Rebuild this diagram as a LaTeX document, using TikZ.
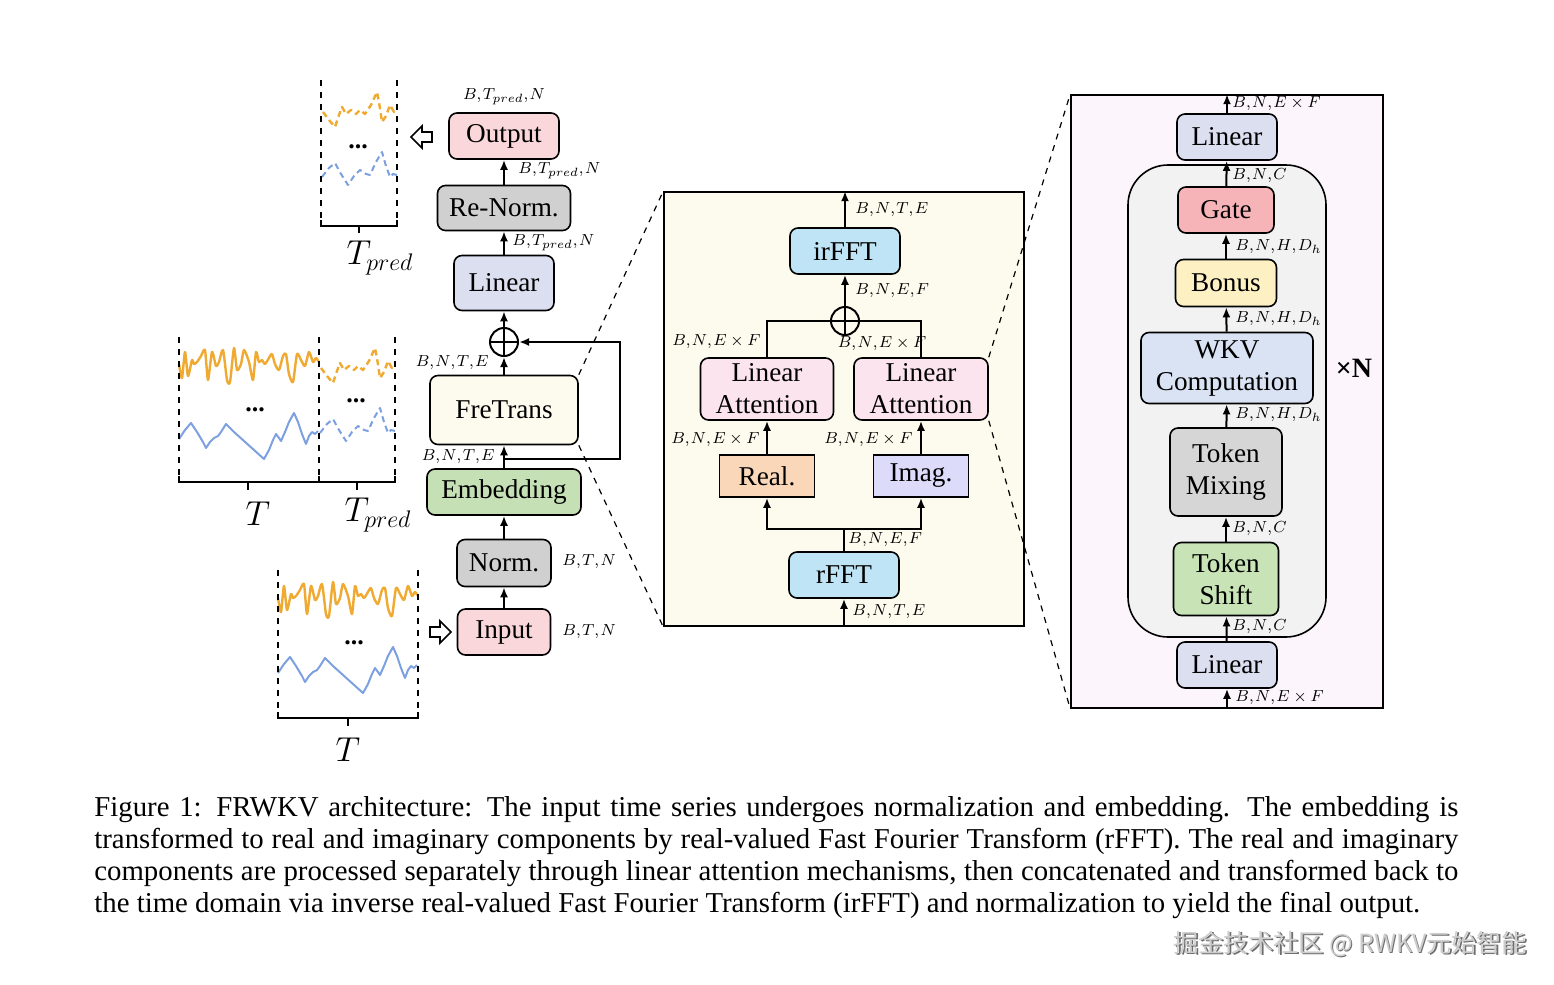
\documentclass[tikz,border=0pt]{standalone}
\usepackage{fontspec}
\setmainfont{Liberation Serif}
\newfontfamily\cjkfont{Noto Sans CJK SC}
\usetikzlibrary{arrows.meta,calc}
\newcommand\kma{\mathord{,}\mkern1.5mu}
\definecolor{cPink}{RGB}{250,215,218}
\definecolor{cGray}{RGB}{208,208,208}
\definecolor{cLin}{RGB}{220,223,240}
\definecolor{cFre}{RGB}{253,250,238}
\definecolor{cEmb}{RGB}{197,224,180}
\definecolor{cPanel}{RGB}{253,251,238}
\definecolor{cFFT}{RGB}{190,228,245}
\definecolor{cLA}{RGB}{251,228,238}
\definecolor{cReal}{RGB}{250,215,185}
\definecolor{cImag}{RGB}{220,220,250}
\definecolor{cRP}{RGB}{252,246,252}
\definecolor{cBig}{RGB}{242,242,242}
\definecolor{cGate}{RGB}{246,180,184}
\definecolor{cBonus}{RGB}{253,241,196}
\definecolor{cWKV}{RGB}{218,227,244}
\definecolor{cTM}{RGB}{214,214,214}
\definecolor{cTS}{RGB}{200,228,182}
\definecolor{cOr}{RGB}{240,170,50}
\definecolor{cBl}{RGB}{125,160,225}
\tikzset{
  box/.style={draw, line width=0.8pt, rounded corners=4pt, align=center, inner sep=0pt,
    font=\fontsize{13.6}{16}\selectfont},
  sqbox/.style={draw, line width=0.8pt, align=center, inner sep=0pt,
    font=\fontsize{13.6}{16}\selectfont},
  wh/.style 2 args={minimum width=#1*0.5pt, minimum height=#2*0.5pt},
  arr/.style={line width=1pt, -{Latex[length=5pt,width=4pt]}},
  ln/.style={line width=1pt},
  lab/.style={inner sep=0pt, font=\fontsize{8.3}{9}\selectfont},
  oplus/.style={circle, draw, line width=1pt, minimum size=14pt, inner sep=0pt,
    path picture={\draw[line width=1pt] (path picture bounding box.north) -- (path picture bounding box.south)
      (path picture bounding box.west) -- (path picture bounding box.east);}},
  zoomline/.style={dashed, line width=0.6pt},
  border/.style={dashed, line width=0.7pt},
  brk/.style={line width=0.8pt},
  oline/.style={draw=cOr, line width=1.2pt, line join=round},
  bline/.style={draw=cBl, line width=1pt, line join=round},
  dsh/.style={dash pattern=on 3pt off 2pt},
  big/.style={inner sep=0pt, font=\fontsize{17}{20}\selectfont},
  dots/.style={inner sep=0pt, font=\fontsize{13}{14}\selectfont\bfseries},
  inseries/.pic={
    \draw[oline] plot[smooth, tension=0.4] coordinates {(0,-2) (3,12) (6,-14) (9,10) (13,-6) (15,-2) (18,-4) (22,-10) (26,-16) (29,14) (33,-14) (37,0) (40,-4) (44,-16) (48,14) (51,16) (55,-18) (58,4) (62,-2) (65,-16) (70,-4) (74,14) (77,-14) (80,-4) (83,-6) (86,-2) (90,-8) (93,-12) (96,-2) (100,4) (104,-10) (107,-12) (110,8) (114,16) (118,-12) (122,-6) (126,0) (130,-14) (134,-4) (137,-8) (140,-4)};
    \draw[bline] plot coordinates {(0,73) (6,64) (12,57) (18,66) (24,76) (27,82) (31,76) (35,72) (39,70) (42,66) (47,58) (55,66) (65,75) (75,84) (85,93) (90,84) (94,74) (97,68) (100,72) (102,75) (106,66) (110,56) (115,47) (119,56) (123,68) (127,78) (130,70) (133,66) (136,68) (139,65)};
  },
  predseries/.pic={
    \draw[oline,dsh] plot coordinates {(2,2) (8,10) (14,17) (18,5) (21,-3) (25,4) (30,0) (35,4) (39,0) (44,4) (50,-5) (56,-18) (58,-8) (61,12) (65,6) (69,-5) (73,2) (76,-2)};
    \draw[bline,dsh] plot coordinates {(1,67) (8,58) (14,53) (20,64) (27,75) (33,66) (39,60) (45,64) (49,65) (55,52) (61,42) (65,56) (69,67) (72,64) (76,65)};
  },
}
\begin{document}
\begin{tikzpicture}[x=0.5pt,y=-0.5pt]
\useasboundingbox[fill=white] (0,0) rectangle (1554,985);

% ---------- time series panels ----------
% top (prediction)
\pic at (321,110) {predseries};
\draw[border] (321,80) -- (321,222);
\draw[border] (397,80) -- (397,222);
\draw[brk] (321,220) -- (321,226) -- (397,226) -- (397,220) (359,226) -- (359,233);
\node[dots] at (358,147) {...};
\node[big] at (380,258) {$T_{pred}$};
% middle (input + prediction)
\pic at (179,366) {inseries};
\pic at (319,366) {predseries};
\draw[border] (179,337) -- (179,478);
\draw[border] (319,337) -- (319,478);
\draw[border] (395,337) -- (395,478);
\draw[brk] (179,476) -- (179,482) -- (395,482) -- (395,476) (319,476) -- (319,482)
  (248,482) -- (248,490) (357,482) -- (357,490);
\node[dots] at (255,410) {...};
\node[dots] at (356,401) {...};
\node[big] at (258,514) {$T$};
\node[big] at (378,515) {$T_{pred}$};
% bottom (input)
\pic at (278,600) {inseries};
\draw[border] (278,570) -- (278,714);
\draw[border] (418,570) -- (418,714);
\draw[brk] (278,712) -- (278,718) -- (418,718) -- (418,712) (348,718) -- (348,726);
\node[dots] at (354,643) {...};
\node[big] at (348,750) {$T$};

% hollow arrows
\draw[line width=0.8pt, fill=white] (430,627) -- (440,627) -- (440,621) -- (451,632) -- (440,643) -- (440,637) -- (430,637) -- cycle;
\draw[line width=0.8pt, fill=white] (432,132) -- (422,132) -- (422,126) -- (411,137) -- (422,148) -- (422,142) -- (432,142) -- cycle;

% ---------- panels ----------
\node[draw, fill=cPanel, line width=0.8pt, inner sep=0pt, wh={360}{434}] (fpanel) at (844,409) {};
\node[draw, fill=cRP, line width=0.8pt, inner sep=0pt, wh={312}{613}] (rpanel) at (1227,401.5) {};
\node[draw, fill=cBig, line width=0.8pt, rounded corners=20pt, inner sep=0pt, wh={198}{472}] (blk) at (1227,401) {};

% ---------- main chain ----------
\node[box, fill=cPink, wh={110}{46}] (output) at (504,136) {Output};
\node[box, fill=cGray, wh={133}{45}] (renorm) at (504,208) {Re-Norm.};
\node[box, fill=cLin, wh={100}{55}] (lin1) at (504,283) {Linear};
\node[oplus] (op1) at (504,342) {};
\node[box, fill=cFre, wh={148}{69}] (fre) at (504,410) {FreTrans};
\node[box, fill=cEmb, wh={154}{46}] (emb) at (504,492) {Embedding};
\node[box, fill=cGray, wh={94}{47}] (norm) at (504,563) {Norm.};
\node[box, fill=cPink, wh={93}{46}] (input) at (504,632) {Input};

\draw[arr] (input) -- (norm);
\draw[arr] (norm) -- (emb);
\draw[arr] (emb) -- (fre);
\draw[arr] (fre) -- (op1);
\draw[arr] (op1) -- (lin1);
\draw[arr] (lin1) -- (renorm);
\draw[arr] (renorm) -- (output);
\coordinate (br) at (504,459);
\coordinate (rc) at (620,459);
\draw[arr] (br) -- (rc) |- (op1.east);

\node[lab] at (504,97) {$B\kma T_{pred}\kma N$};
\node[lab, anchor=west] at (518,171) {$B\kma T_{pred}\kma N$};
\node[lab, anchor=west] at (512,243) {$B\kma T_{pred}\kma N$};
\node[lab, anchor=east] at (489,363) {$B\kma N\kma T\kma E$};
\node[lab, anchor=east] at (495,457) {$B\kma N\kma T\kma E$};
\node[lab, anchor=west] at (562,562) {$B\kma T\kma N$};
\node[lab, anchor=west] at (562,632) {$B\kma T\kma N$};

% zoom lines
\draw[zoomline] (fre.north east) -- (fpanel.north west);
\draw[zoomline] (fre.south east) -- (fpanel.south west);

% ---------- FreTrans panel ----------
\node[box, fill=cFFT, wh={110}{46}] (irfft) at (845,251) {irFFT};
\node[oplus] (op2) at (845,321) {};
\node[box, fill=cLA, wh={133}{62}] (lal) at (767,389) {Linear\\Attention};
\node[box, fill=cLA, wh={134}{62}] (lar) at (921,389) {Linear\\Attention};
\node[sqbox, fill=cReal, wh={95}{42}] (real) at (767,476) {Real.};
\node[sqbox, fill=cImag, wh={95}{42}] (imag) at (921,476) {Imag.};
\node[box, fill=cFFT, wh={110}{46}] (rfft) at (844,575) {rFFT};

\draw[arr] (irfft.north) -- (irfft.north |- fpanel.north);
\draw[arr] (op2) -- (irfft);
\draw[ln] (lal.north) |- (op2.west);
\draw[ln] (lar.north) |- (op2.east);
\draw[arr] (real) -- (lal);
\draw[arr] (imag) -- (lar);
\coordinate (sp) at (844,529);
\draw[ln] (rfft.north) -- (sp);
\draw[arr] (sp) -| (real.south);
\draw[arr] (sp) -| (imag.south);
\draw[arr] (rfft.south |- fpanel.south) -- (rfft.south);

\node[lab, anchor=west] at (855,210) {$B\kma N\kma T\kma E$};
\node[lab, anchor=west] at (855,291) {$B\kma N\kma E\kma F$};
\node[lab, anchor=east] at (761,342) {$B\kma N\kma E\times F$};
\node[lab] at (882,344) {$B\kma N\kma E\times F$};
\node[lab, anchor=east] at (760,440) {$B\kma N\kma E\times F$};
\node[lab, anchor=east] at (913,440) {$B\kma N\kma E\times F$};
\node[lab, anchor=west] at (848,540) {$B\kma N\kma E\kma F$};
\node[lab, anchor=west] at (852,612) {$B\kma N\kma T\kma E$};

% zoom lines to RWKV panel
\draw[zoomline] (lar.north east) -- (rpanel.north west);
\draw[zoomline] (lar.south east) -- (rpanel.south west);

% ---------- RWKV panel ----------
\node[box, fill=cLin, wh={100}{46}] (rlin2) at (1227,137) {Linear};
\node[box, fill=cGate, wh={96}{46}] (gate) at (1226,210) {Gate};
\node[box, fill=cBonus, wh={101}{47}] (bonus) at (1226,283) {Bonus};
\node[box, fill=cWKV, wh={172}{71}] (wkv) at (1227,368) {WKV\\Computation};
\node[box, fill=cTM, wh={112}{88}] (tm) at (1226,472) {Token\\Mixing};
\node[box, fill=cTS, wh={105}{73}] (ts) at (1226,579) {Token\\Shift};
\node[box, fill=cLin, wh={100}{46}] (rlin1) at (1227,665) {Linear};

\draw[arr] (rlin2.north) -- (rlin2.north |- rpanel.north);
\draw[arr] (gate) -- (rlin2);
\draw[arr] (bonus) -- (gate);
\draw[arr] (wkv) -- (bonus);
\draw[arr] (tm) -- (wkv);
\draw[arr] (ts) -- (tm);
\draw[arr] (rlin1) -- (ts);
\draw[arr] (rlin1.south |- rpanel.south) -- (rlin1.south);

\node[lab, anchor=west] at (1232,104) {$B\kma N\kma E\times F$};
\node[lab, anchor=west] at (1232,176) {$B\kma N\kma C$};
\node[lab, anchor=west] at (1235,247) {$B\kma N\kma H\kma D_h$};
\node[lab, anchor=west] at (1235,319) {$B\kma N\kma H\kma D_h$};
\node[lab, anchor=west] at (1235,415) {$B\kma N\kma H\kma D_h$};
\node[lab, anchor=west] at (1232,529) {$B\kma N\kma C$};
\node[lab, anchor=west] at (1232,627) {$B\kma N\kma C$};
\node[lab, anchor=west] at (1235,698) {$B\kma N\kma E\times F$};
\node[inner sep=0pt, font=\fontsize{14}{16}\selectfont\bfseries] (xn) at (1354,368) {×N};

% ---------- caption ----------
\node[anchor=base west, inner sep=0pt] (cap) at (94,816) {\parbox[t]{682pt}{\fontsize{14.4}{16}\selectfont\parindent=0pt
Figure 1: FRWKV architecture: The input time series undergoes normalization and embedding. The embedding is\linebreak
transformed to real and imaginary components by real-valued Fast Fourier Transform (rFFT). The real and imaginary\linebreak
components are processed separately through linear attention mechanisms, then concatenated and transformed back to\linebreak
the time domain via inverse real-valued Fast Fourier Transform (irFFT) and normalization to yield the final output.}};

% watermark
\node[anchor=east, inner sep=0pt, text={rgb,255:red,110;green,110;blue,110}, font=\cjkfont\fontsize{12.5}{14}\selectfont] at (1528.5,945.5) {掘金技术社区 @ RWKV元始智能};
\node[anchor=east, inner sep=0pt, text={rgb,255:red,205;green,205;blue,205}, font=\cjkfont\fontsize{12.5}{14}\selectfont] (wm) at (1527,944) {掘金技术社区 @ RWKV元始智能};
\end{tikzpicture}
\end{document}
